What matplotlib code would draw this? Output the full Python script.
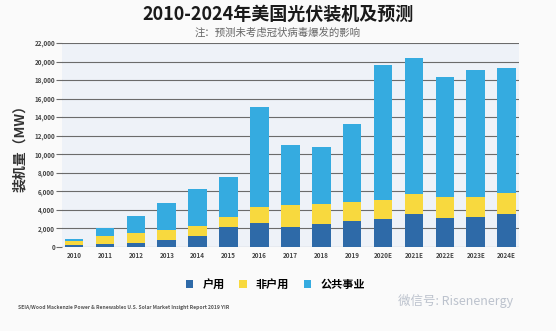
import numpy as np
import matplotlib.pyplot as plt
from matplotlib.patches import Patch
from matplotlib.ticker import FuncFormatter

plt.rcParams['font.family'] = ['Noto Sans CJK SC', 'DejaVu Sans']

# 装机量 (MW)
years = ['2010', '2011', '2012', '2013', '2014', '2015', '2016', '2017', '2018',
         '2019', '2020E', '2021E', '2022E', '2023E', '2024E']
residential = [250, 320, 470, 760, 1190, 2140, 2610, 2200, 2450,
               2810, 3030, 3600, 3100, 3280, 3570]
non_residential = [340, 870, 1080, 1080, 1080, 1070, 1710, 2300, 2200,
                   2050, 1980, 2130, 2300, 2160, 2230]
utility = [260, 810, 1800, 2880, 3970, 4320, 10830, 6500, 6090,
           8400, 14590, 14700, 12900, 13700, 13520]
series_names = ['户用', '非户用', '公共事业']
colors = ['#2e6aa8', '#f8d93e', '#35abe0']

fig = plt.figure(figsize=(5.56, 3.31), dpi=100, facecolor='#fafafa')
ax = fig.add_axes([0.1115, 0.254, 0.822, 0.616])
ax.set_facecolor('#eef2f8')

x = np.arange(len(years))
res = np.array(residential)
nonres = np.array(non_residential)
util = np.array(utility)
w = 0.6
ax.bar(x, res, w, color=colors[0], zorder=3)
ax.bar(x, nonres, w, bottom=res, color=colors[1], zorder=3)
ax.bar(x, util, w, bottom=res + nonres, color=colors[2], zorder=3)

ax.set_xlim(-0.39, 14.4)
ax.set_ylim(0, 22000)
ax.set_yticks(range(0, 22001, 2000))
ax.yaxis.set_major_formatter(FuncFormatter(lambda v, p: f'{int(v):,}'))
ax.grid(axis='y', color='#6b6b6b', linewidth=0.8, zorder=1)
ax.set_xticks(x)
ax.set_xticklabels(years)
ax.tick_params(axis='y', length=4, color='#6b6b6b', labelsize=4.5,
               labelcolor='#444444', pad=1)
ax.tick_params(axis='x', length=0, labelsize=4.5, labelcolor='#444444', pad=4)
for lbl in ax.get_xticklabels() + ax.get_yticklabels():
    lbl.set_fontweight('bold')
for s in ax.spines.values():
    s.set_visible(False)

ax.set_ylabel('装机量（MW）', fontsize=10, fontweight='bold', color='#333333',
              labelpad=5)

fig.text(0.5, 0.958, '2010-2024年美国光伏装机及预测', ha='center', va='center',
         fontsize=13, fontweight='bold', color='#1a1a1a')
fig.text(0.5, 0.902, '注：预测未考虑冠状病毒爆发的影响', ha='center', va='center',
         fontsize=7.5, color='#666666')

handles = [Patch(facecolor=c, edgecolor='none') for c in colors]
fig.legend(handles, series_names, loc='center', bbox_to_anchor=(0.495, 0.14),
           ncol=3, frameon=False, handlelength=0.7,
           handleheight=0.7, columnspacing=1.3, handletextpad=0.8,
           prop={'weight': 'bold', 'size': 8})

fig.text(0.032, 0.072, 'SEIA/Wood Mackenzie Power & Renewables U.S. Solar Market Insight Report 2019 YIR',
         ha='left', va='center', fontsize=3.6, fontweight='bold', color='#555555')
fig.text(0.715, 0.09, '微信号: Risenenergy', ha='left', va='center',
         fontsize=9, color='#b5bcc8', alpha=0.9)

fig.savefig('out.png', dpi=100, facecolor=fig.get_facecolor())
